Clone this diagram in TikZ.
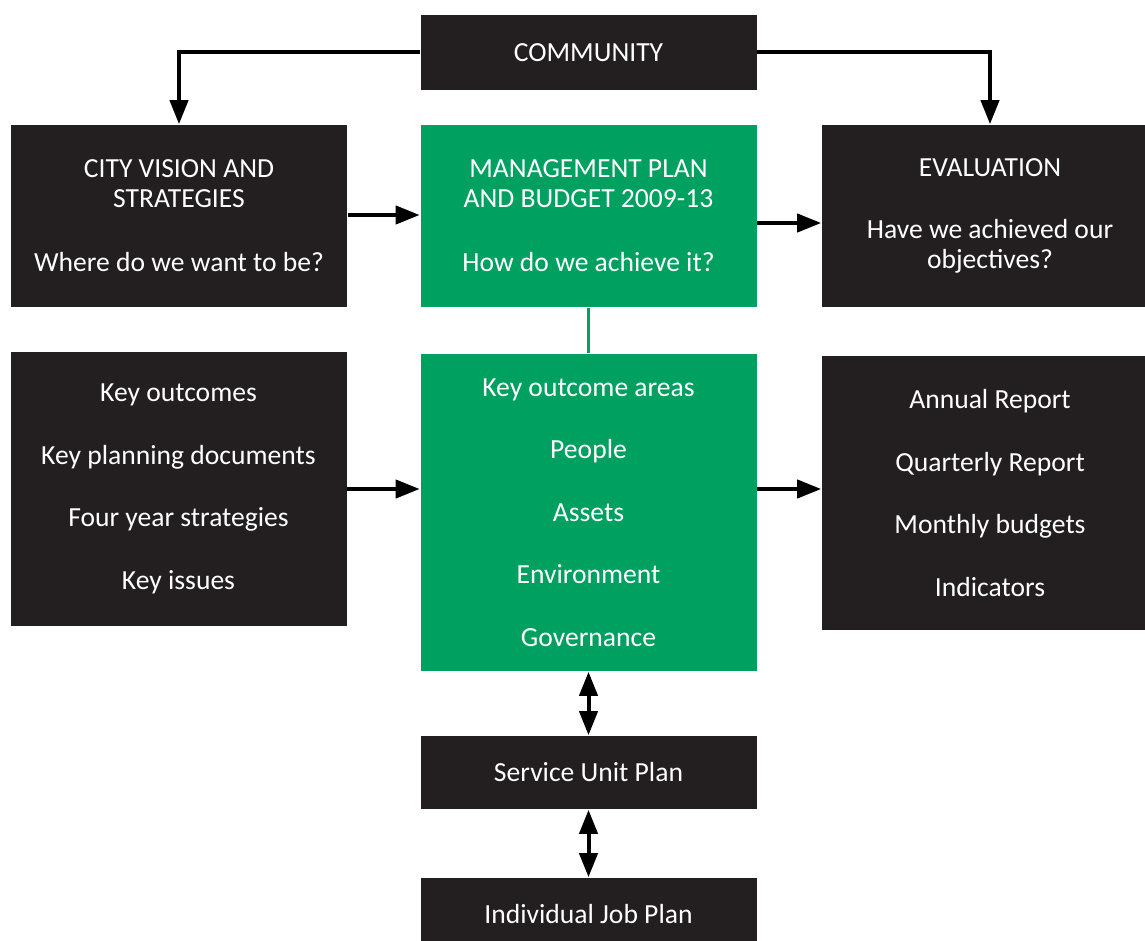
\documentclass[tikz,border=0pt]{standalone}
\usepackage{fontspec}
\setmainfont{Carlito}
\usetikzlibrary{arrows.meta}
\definecolor{boxblack}{RGB}{35,31,32}
\definecolor{boxgreen}{RGB}{0,161,96}

\begin{document}
\begin{tikzpicture}[x=0.5pt, y=-0.5pt, thick,
    main/.style = {fill=boxblack, text=white, minimum width=168pt, inner sep=0pt,
                   align=center, font=\fontsize{13.8}{15}\selectfont},
    mgmt/.style = {main, fill=boxgreen},
    list/.style = {font=\fontsize{13.8}{31.25}\selectfont},
    arr/.style = {line width=2pt, -{Triangle[length=12pt,width=9pt]}},
    dbl/.style = {line width=2pt, {Triangle[length=12pt,width=9pt]}-{Triangle[length=12pt,width=9pt]}}]
    \useasboundingbox (0,0) rectangle (1145,941);
    % top row
    \node[main, minimum height=37.5pt] (comm) at (588.5,52.5) {COMMUNITY};
    \node[main, minimum height=91pt] (vision) at (179,216)
        {CITY VISION AND\\STRATEGIES\\[17pt]Where do we want to be?};
    \node[mgmt, minimum height=91pt] (plan) at (588.5,216)
        {MANAGEMENT PLAN\\AND BUDGET 2009-13\\[17pt]How do we achieve it?};
    \node[main, minimum height=91pt] (eval) at (990,216)
        {EVALUATION\\[16pt]Have we achieved our\\objectives?};
    % middle row
    \node[main, list, minimum height=137pt] (keys) at (178.5,489)
        {Key outcomes\\Key planning documents\\Four year strategies\\Key issues};
    \node[mgmt, list, minimum height=158.5pt] (areas) at (588.5,512.5)
        {Key outcome areas\\People\\Assets\\Environment\\Governance};
    \node[main, list, minimum height=137pt] (reports) at (990,493)
        {Annual Report\\Quarterly Report\\Monthly budgets\\Indicators};
    % plans below
    \node[main, minimum height=36.5pt] (unit) at (588.5,772.5) {Service Unit Plan};
    \node[main, minimum height=36.5pt] (job) at (588.5,914.5) {Individual Job Plan};

    \draw[arr] (comm.west) -| (vision.north);
    \draw[arr] (comm.east) -| (eval.north);
    \draw[arr] ([yshift=0.5pt]vision.east) -- ([yshift=0.5pt]plan.west);
    \draw[arr] ([yshift=-3.5pt]plan.east) -- ([yshift=-3.5pt]eval.west);
    \draw[arr] (keys.east) -- (keys.east -| areas.west);
    \draw[arr] (areas.east |- keys.east) -- (reports.west |- keys.east);
    \draw[boxgreen, line width=1.5pt] (plan) -- (areas);
    \draw[dbl] (areas) -- (unit);
    \draw[dbl] (unit) -- (job);
\end{tikzpicture}
\end{document}
